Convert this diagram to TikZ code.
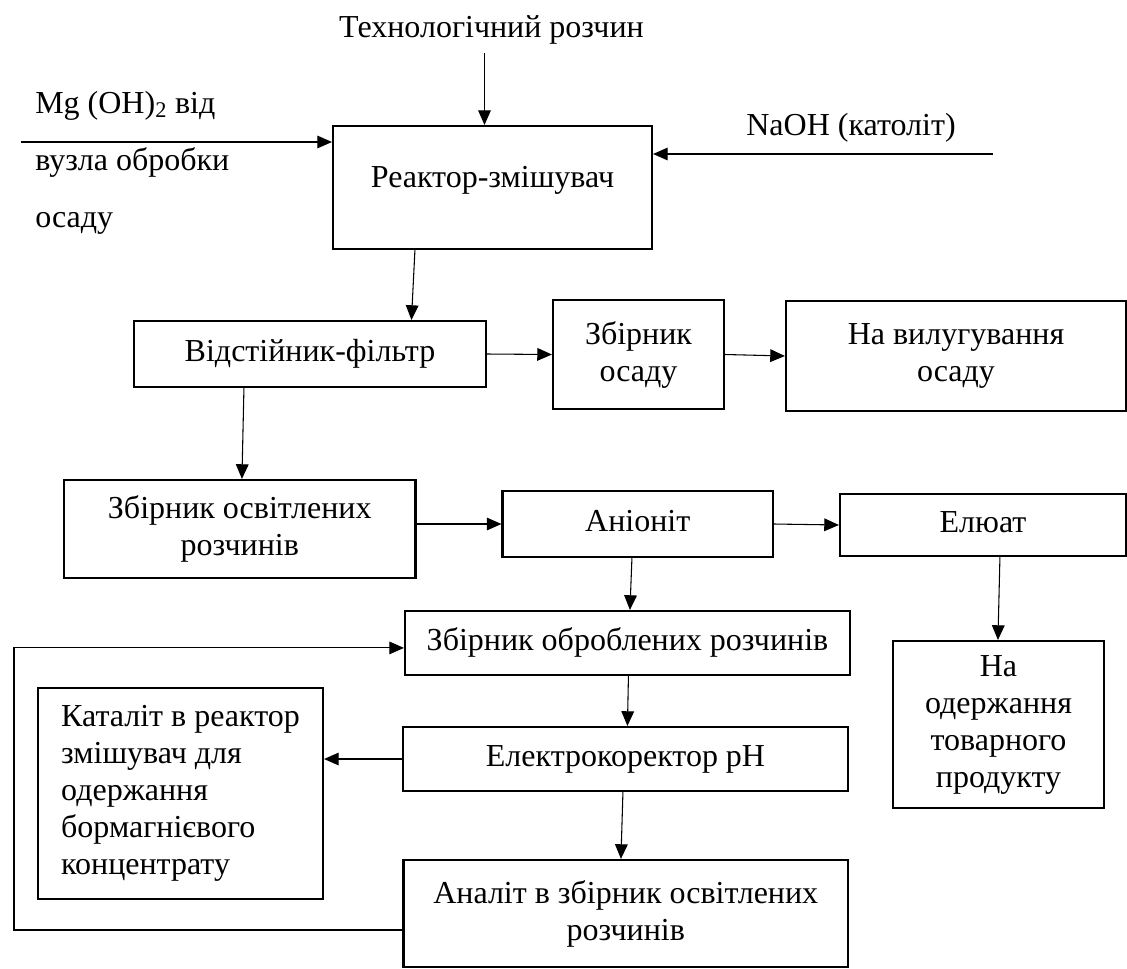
\documentclass[tikz,border=0pt]{standalone}
\usepackage{fontspec}
\setmainfont{Liberation Serif}
\usetikzlibrary{arrows.meta}

\begin{document}
\begin{tikzpicture}[x=0.75pt,y=0.75pt,yscale=-1,xscale=1,
	box/.style={draw,line width=1.6pt,inner sep=0pt,font=\fontsize{24pt}{27.75pt}\selectfont},
	bx/.style 2 args={minimum width=#1*0.75pt,minimum height=#2*0.75pt},
	oneline/.style={text height=16.5pt,text depth=5.25pt},
	lbl/.style={inner sep=0pt,font=\fontsize{24pt}{27.75pt}\selectfont},
	arr/.style={line width=0.8pt,-{Triangle[length=11pt,width=9.5pt]}}]
		%uncomment if require: \path (0,968); %set diagram left start at 0, and has height of 968
		\path[use as bounding box] (0,0) rectangle (1127,968);
		
		\node[lbl,anchor=base] (techn) at (491.5,37) {Технологічний розчин};
		\node[lbl,anchor=base west] (mgA) at (35,113) {Mg (OH)\textsubscript{2} від};
		\node[lbl,anchor=base west] (mgB) at (35,170) {вузла обробки};
		\node[lbl,anchor=base west] (mgC) at (35,227) {осаду};
		\node[lbl,anchor=base] (naoh) at (851,135) {NaOH (католіт)};
		
		\node[box,bx={319}{123},text height=16.5pt,text depth=17.25pt] (reactor) at (492.5,187.5) {Реактор-змішувач};
		\node[box,bx={352}{66},oneline] (filter) at (310,354) {Відстійник-фільтр};
		\node[box,bx={171}{109},align=center] (osad) at (638.5,354.5) {Збірник\\осаду};
		\node[box,bx={340}{110},align=center] (vylug) at (956,356) {На вилугування\\осаду};
		\node[box,bx={351.5}{98},align=center] (osvit) at (239.75,529) {Збірник освітлених\\розчинів};
		\node[box,bx={270.5}{66},oneline] (anionit) at (637.75,524) {Аніоніт};
		\node[box,bx={286}{62},oneline] (eluat) at (983,525) {Елюат};
		\node[box,bx={445}{64},oneline] (obrob) at (627.5,643) {Збірник оброблених розчинів};
		\node[box,bx={211}{167},align=center] (tovar) at (998.5,724.5) {На\\одержання\\товарного\\продукту};
		\node[box,bx={285}{211},align=left] (katalit) at (180.5,793.5) {Каталіт в реактор\\змішувач для\\одержання\\бормагнієвого\\концентрату};
		\node[box,bx={445}{64},oneline] (elkor) at (625.5,759) {Електрокоректор pH};
		\node[box,bx={444.5}{107},align=center] (analit) at (625.75,913.5) {Аналіт в збірник освітлених\\розчинів};
		
		\coordinate (techOut) at (484.5,53);
		\coordinate (mgOut) at (21,142);
		\coordinate (naohOut) at (993,154);
		\coordinate (loop) at (14,930);
		
		\draw[arr] (techOut) -- (techOut |- reactor.north);
		\draw[arr] (mgOut) -- (mgOut -| reactor.west);
		\draw[arr] (naohOut) -- (naohOut -| reactor.east);
		\draw[arr] ([shift={(83,0)}]reactor.south west) -- ([shift={(278.5,0)}]filter.north west);
		\draw[arr] (filter.east) -- (osad.west);
		\draw[arr] (osad.east) -- (vylug.west);
		\draw[arr] ([shift={(111,0)}]filter.south west) -- ([shift={(179,0)}]osvit.north west);
		\draw[arr] (osvit.east |- anionit.west) -- (anionit.west);
		\draw[arr] (anionit.east) -- (eluat.west);
		\draw[arr] ([shift={(130.5,0)}]anionit.south west) -- ([shift={(226,0)}]obrob.north west);
		\draw[arr] ([shift={(161,0)}]eluat.south west) -- ([shift={(106,0)}]tovar.north west);
		\draw[arr] ([shift={(224.5,0)}]obrob.south west) -- ([shift={(225.5,0)}]elkor.north west);
		\draw[arr] (elkor.west) -- (elkor.west -| katalit.east);
		\draw[arr] ([shift={(221,0)}]elkor.south west) -- ([shift={(218.5,0)}]analit.north west);
		\draw[arr] (loop -| analit.west) -- (loop) |- ([shift={(0,38)}]obrob.north west);
		
\end{tikzpicture}
\end{document}
